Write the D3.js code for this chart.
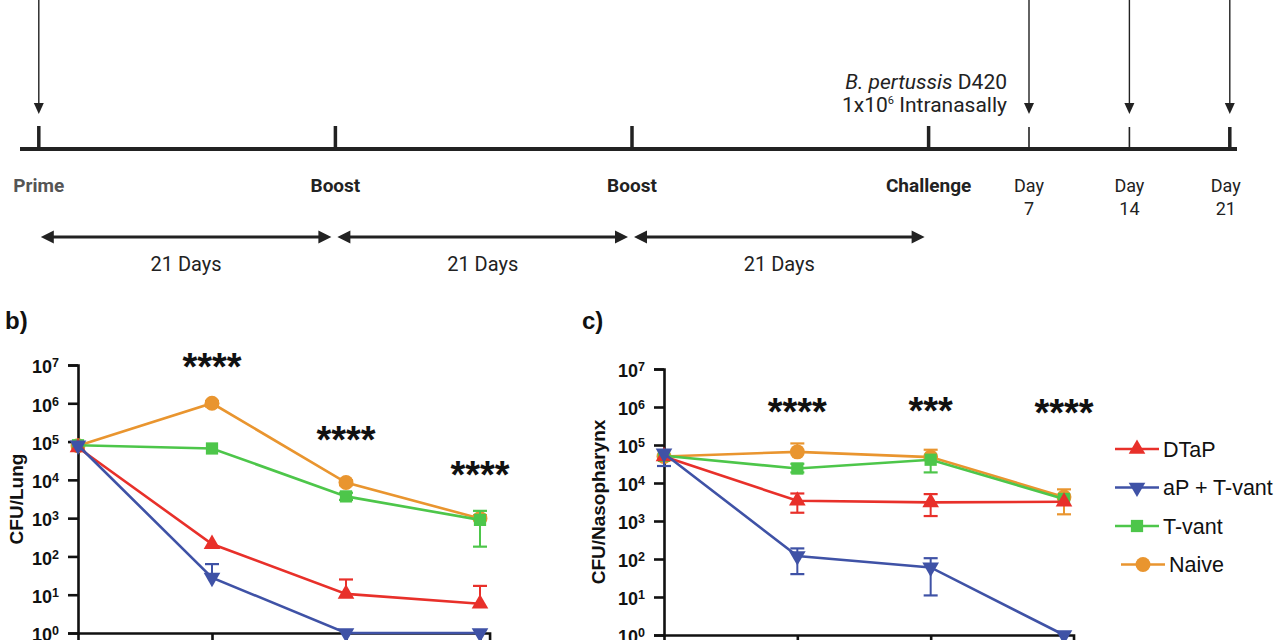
<!DOCTYPE html>
<html><head><meta charset="utf-8">
<script src="https://cdn.jsdelivr.net/npm/d3@7"></script>
<style>
body{margin:0;background:#fff;}
svg{display:block;}
</style></head>
<body>
<script>
// ---------- DATA ----------
const days = [0, 7, 14, 21];
const seriesNames = ["DTaP", "aP + T-vant", "T-vant", "Naive"];

// Lung CFU (panel b)
const lungDTaP    = [7e4, 210, 10.5, 5.8];
const lungApTvant = [8e4, 28, 1, 1];
const lungTvant   = [8e4, 6.6e4, 3.7e3, 9e2];
const lungNaive   = [7.8e4, 1e6, 8.5e3, 9.8e2];
const lungDTaPHi    = [null, null, 25, 17];
const lungDTaPLo    = [null, null, null, null];
const lungApTvantHi = [null, 63, null, null];
const lungApTvantLo = [null, null, null, null];
const lungTvantHi   = [null, null, 4.6e3, 1.55e3];
const lungTvantLo   = [null, null, 3.0e3, 1.8e2];
const lungNaiveHi   = [null, 1.15e6, 9.8e3, 1.2e3];
const lungNaiveLo   = [null, 8.2e5, 7.2e3, null];
const lungStars     = ["", "****", "****", "****"];
const lungStarLevel = [null, 1.4e7, 1.8e5, 2.2e4];

// Nasopharynx CFU (panel c)
const npDTaP    = [5e4, 3.4e3, 3.1e3, 3.2e3];
const npApTvant = [6e4, 120, 60, 1];
const npTvant   = [5.2e4, 2.4e4, 4.1e4, 3.8e3];
const npNaive   = [5e4, 6.6e4, 4.8e4, 4.3e3];
const npDTaPHi    = [null, 5.3e3, 5.1e3, null];
const npDTaPLo    = [null, 1.65e3, 1.35e3, null];
const npApTvantHi = [null, 190, 105, null];
const npApTvantLo = [2.8e4, 40, 11, null];
const npTvantHi   = [null, 3.2e4, null, null];
const npTvantLo   = [null, 1.9e4, 1.9e4, null];
const npNaiveHi   = [null, 1.1e5, 7.5e4, 6.8e3];
const npNaiveLo   = [null, null, null, 1.5e3];
const npStars     = ["", "****", "***", "****"];
const npStarLevel = [null, 1.2e6, 1.25e6, 1.15e6];

const yTicks = [1, 10, 100, 1e3, 1e4, 1e5, 1e6, 1e7];

// Timeline
const tlEvents = ["Prime", "Boost", "Boost", "Challenge"];
const tlEventDays = [0, 21, 42, 63];
const tlSampleDays = [70, 77, 84];
const tlSampleLabels = [["Day", "7"], ["Day", "14"], ["Day", "21"]];
const tlIntervalLabel = "21 Days";

// ---------- STYLE ----------
const colors = {"DTaP": "#E8302A", "aP + T-vant": "#3F52A6", "T-vant": "#4DC64A", "Naive": "#E9952F"};
const symbols = {"DTaP": "up", "aP + T-vant": "down", "T-vant": "square", "Naive": "circle"};
const drawOrder = ["Naive", "T-vant", "DTaP", "aP + T-vant"];
const chartFont = "'Liberation Sans', Arial, Helvetica, sans-serif";
const tlFont = "Roboto, 'Noto Sans', sans-serif";

const svg = d3.select("body").append("svg").attr("width", 1280).attr("height", 640);
svg.append("rect").attr("width", 1280).attr("height", 640).attr("fill", "#fff");

// ---------- TIMELINE ----------
const tl = svg.append("g");
const xT = d3.scaleLinear().domain([0, 63]).range([38.8, 928.6]);
const xT2 = d3.scaleLinear().domain([63, 84]).range([928.6, 1229.8]);
const tlY = 149;
const ink = "#222";
function arrowHead(g, x, yTip, dir) {
  let p;
  if (dir === "down") p = [[x - 5, yTip - 11], [x + 5, yTip - 11], [x, yTip]];
  if (dir === "left") p = [[x, yTip], [x + 13, yTip - 6.5], [x + 13, yTip + 6.5]];
  if (dir === "right") p = [[x, yTip], [x - 13, yTip - 6.5], [x - 13, yTip + 6.5]];
  g.append("path").attr("d", d3.line()(p) + "Z").attr("fill", ink);
}
tl.append("line").attr("x1", 20).attr("x2", 1237).attr("y1", tlY).attr("y2", tlY)
  .attr("stroke", ink).attr("stroke-width", 4);
tlEventDays.forEach((d, i) => {
  const x = xT(d);
  tl.append("line").attr("x1", x).attr("x2", x).attr("y1", 126).attr("y2", tlY)
    .attr("stroke", ink).attr("stroke-width", 3.5);
  tl.append("text").attr("x", x).attr("y", 192).attr("text-anchor", "middle")
    .attr("font-family", tlFont).attr("font-weight", "bold").attr("font-size", 19)
    .attr("fill", i === 0 ? "#555" : ink).text(tlEvents[i]);
  if (i < tlEventDays.length - 1) {
    const x1 = xT(d) + 2, x2 = xT(tlEventDays[i + 1]) - 4, ay = 237;
    tl.append("line").attr("x1", x1 + 6).attr("x2", x2 - 6).attr("y1", ay).attr("y2", ay)
      .attr("stroke", ink).attr("stroke-width", 3);
    arrowHead(tl, x1, ay, "left");
    arrowHead(tl, x2, ay, "right");
    tl.append("text").attr("x", (x1 + x2) / 2).attr("y", 271).attr("text-anchor", "middle")
      .attr("font-family", tlFont).attr("font-size", 20).attr("fill", ink).text(tlIntervalLabel);
  }
});
[xT(0)].concat(tlSampleDays.map(d => xT2(d))).forEach(x => {
  tl.append("line").attr("x1", x).attr("x2", x).attr("y1", 0).attr("y2", 104)
    .attr("stroke", ink).attr("stroke-width", 1.4);
  arrowHead(tl, x, 114, "down");
});
tlSampleDays.forEach((d, i) => {
  const x = xT2(d);
  tl.append("line").attr("x1", x).attr("x2", x).attr("y1", 127).attr("y2", tlY)
    .attr("stroke", ink).attr("stroke-width", i === 2 ? 3.5 : 1.6);
  const t = tl.append("text").attr("text-anchor", "middle").attr("font-family", tlFont)
    .attr("font-size", 18).attr("fill", ink);
  t.append("tspan").attr("x", i === 2 ? x - 4 : x).attr("y", 192).text(tlSampleLabels[i][0]);
  t.append("tspan").attr("x", i === 2 ? x - 4 : x).attr("y", 215).text(tlSampleLabels[i][1]);
});
const chText = tl.append("text").attr("x", 1007).attr("y", 89).attr("text-anchor", "end")
  .attr("font-family", tlFont).attr("font-size", 21).attr("fill", ink);
chText.append("tspan").attr("font-style", "italic").text("B. pertussis");
chText.append("tspan").text(" D420");
const chText2 = tl.append("text").attr("x", 1007).attr("y", 112).attr("text-anchor", "end")
  .attr("font-family", tlFont).attr("font-size", 21).attr("fill", ink);
chText2.append("tspan").text("1x10");
chText2.append("tspan").attr("dy", -8).attr("font-size", 11).text("6");
chText2.append("tspan").attr("dy", 8).text(" Intranasally");

// ---------- PANELS ----------
function symbolPath(kind) {
  if (kind === "up" || kind === "down") return d3.symbol().type(d3.symbolTriangle).size(120)();
  if (kind === "square") return d3.symbol().type(d3.symbolSquare).size(150)();
  return d3.symbol().type(d3.symbolCircle).size(175)();
}
function marker(g, kind, x, y, color) {
  return g.append("path").attr("d", symbolPath(kind)).attr("fill", color)
    .attr("transform", `translate(${x},${y})` + (kind === "down" ? " rotate(180)" : ""));
}

function drawPanel(cfg) {
  const g = svg.append("g");
  const x = d3.scaleLinear().domain([0, 21]).range([cfg.x0, cfg.x1]);
  const y = d3.scaleLog().domain([1, 1e7]).range([cfg.yBottom, cfg.yTop]);
  const xAxisScale = x.copy().domain([0, 21.5]).range([cfg.x0, x(21.5)]);

  g.append("text").attr("x", cfg.letterX).attr("y", 329).attr("font-family", chartFont)
    .attr("font-weight", "bold").attr("font-size", 24).attr("fill", "#111").text(cfg.letter);

  const ya = g.append("g").attr("transform", `translate(${cfg.x0},0)`)
    .call(d3.axisLeft(y).tickValues(yTicks).tickSizeOuter(0).tickSize(10).tickPadding(9).tickFormat(() => ""));
  ya.select(".domain").attr("stroke", "#111").attr("stroke-width", 2.6);
  ya.selectAll(".tick line").attr("stroke", "#111").attr("stroke-width", 2.6);
  ya.selectAll(".tick text").each(function(d) {
    const t = d3.select(this);
    t.text(null).attr("font-family", chartFont).attr("font-weight", "bold")
      .attr("font-size", 18).attr("fill", "#111").attr("dy", "0.43em");
    t.append("tspan").text("10");
    t.append("tspan").attr("dy", -6).attr("font-size", 12.5).text(Math.round(Math.log10(d)));
  });
  const xa = g.append("g").attr("transform", `translate(0,${cfg.yBottom})`)
    .call(d3.axisBottom(xAxisScale).tickValues(days.slice(1)).tickSizeOuter(0).tickSize(10).tickFormat(""));
  xa.select(".domain").attr("stroke", "#111").attr("stroke-width", 2.6);
  xa.selectAll(".tick line").attr("stroke", "#111").attr("stroke-width", 2.6);

  g.append("text").attr("transform", `translate(${cfg.titleX},${(cfg.yTop + cfg.yBottom) / 2}) rotate(-90)`)
    .attr("text-anchor", "middle").attr("dy", "0.35em").attr("font-family", chartFont)
    .attr("font-weight", "bold").attr("font-size", 19).attr("fill", "#111").text(cfg.title);

  drawOrder.forEach(name => {
    const s = cfg.series[name];
    const col = colors[name];
    const sg = g.append("g");
    days.forEach((d, i) => {
      [s.hi[i], s.lo[i]].forEach(v => {
        if (v == null) return;
        sg.append("line").attr("x1", x(d)).attr("x2", x(d)).attr("y1", y(s.v[i])).attr("y2", y(v))
          .attr("stroke", col).attr("stroke-width", 2);
        sg.append("line").attr("x1", x(d) - 7).attr("x2", x(d) + 7).attr("y1", y(v)).attr("y2", y(v))
          .attr("stroke", col).attr("stroke-width", 2.2);
      });
    });
    sg.append("path").datum(s.v).attr("fill", "none").attr("stroke", col).attr("stroke-width", 2.6)
      .attr("d", d3.line().x((v, i) => x(days[i])).y(v => y(v)));
    s.v.forEach((v, i) => marker(sg, symbols[name], x(days[i]), y(v), col));
  });

  cfg.stars.forEach((st, i) => {
    if (!st) return;
    g.append("text").attr("x", x(days[i])).attr("y", y(cfg.starLevel[i]) + 21)
      .attr("text-anchor", "middle").attr("font-family", chartFont).attr("font-weight", "bold")
      .attr("font-size", 38).attr("fill", "#111").text(st);
  });
}

drawPanel({
  letter: "b)", letterX: 5, x0: 78, x1: 480, yTop: 365, yBottom: 633, titleX: 16, title: "CFU/Lung",
  series: {
    "DTaP": {v: lungDTaP, hi: lungDTaPHi, lo: lungDTaPLo},
    "aP + T-vant": {v: lungApTvant, hi: lungApTvantHi, lo: lungApTvantLo},
    "T-vant": {v: lungTvant, hi: lungTvantHi, lo: lungTvantLo},
    "Naive": {v: lungNaive, hi: lungNaiveHi, lo: lungNaiveLo}
  },
  stars: lungStars, starLevel: lungStarLevel
});
drawPanel({
  letter: "c)", letterX: 582, x0: 664, x1: 1064, yTop: 369, yBottom: 635, titleX: 598, title: "CFU/Nasopharynx",
  series: {
    "DTaP": {v: npDTaP, hi: npDTaPHi, lo: npDTaPLo},
    "aP + T-vant": {v: npApTvant, hi: npApTvantHi, lo: npApTvantLo},
    "T-vant": {v: npTvant, hi: npTvantHi, lo: npTvantLo},
    "Naive": {v: npNaive, hi: npNaiveHi, lo: npNaiveLo}
  },
  stars: npStars, starLevel: npStarLevel
});

const leg = svg.append("g").attr("transform", "translate(1115,449)");
seriesNames.forEach((name, i) => {
  const row = leg.append("g").attr("transform", `translate(${name === "Naive" ? 6 : 0},${i * 38.5})`);
  row.append("line").attr("x1", 0).attr("x2", 44).attr("y1", 0).attr("y2", 0)
    .attr("stroke", colors[name]).attr("stroke-width", 2.6);
  marker(row, symbols[name], 22, 0, colors[name]);
  row.append("text").attr("x", 48).attr("y", 0).attr("dy", "0.36em").attr("font-family", chartFont)
    .attr("font-size", 21.5).attr("fill", "#111").text(name);
});
</script>
</body></html>
